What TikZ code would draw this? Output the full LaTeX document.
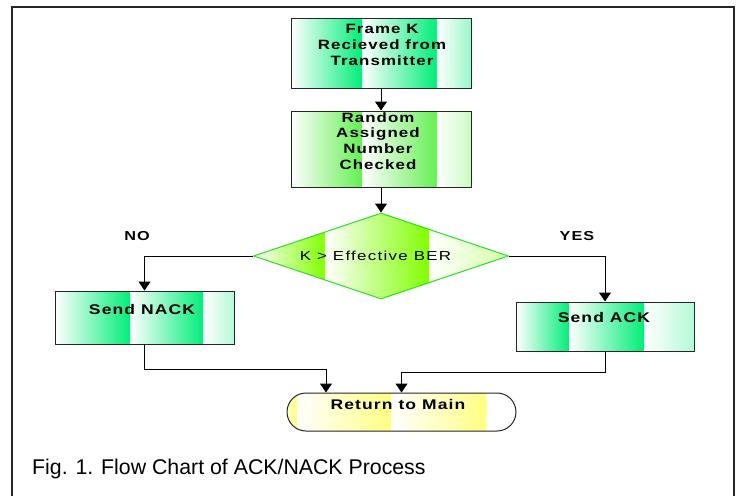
\documentclass[tikz,border=0pt]{standalone}
\usepackage{fontspec}
\setmainfont{Liberation Sans}
\newfontfamily\boxfont[FakeStretch=1.25,LetterSpace=8]{Liberation Sans}
\newfontfamily\dfont[FakeStretch=1.3,LetterSpace=10]{Liberation Sans}
\usetikzlibrary{shapes.geometric,shapes.misc,arrows.meta,calc}
\definecolor{gA}{RGB}{0,238,120}
\definecolor{gB}{RGB}{100,240,80}
\definecolor{gL}{RGB}{128,255,0}
\definecolor{gE}{RGB}{40,225,30}
\definecolor{yY}{RGB}{255,255,128}
\tikzset{
  stripes/.style n args={4}{path picture={
     \path (path picture bounding box.south west) coordinate (pp1)
           (path picture bounding box.north east) coordinate (pp2);
     \shade[left color=white,right color=#1] (pp1) rectangle ($(pp1|-pp2)!#2!(pp2)$);
     \shade[left color=white,right color=#1] ($(pp1)!#2!(pp1-|pp2)$) rectangle ($(pp1|-pp2)!#3!(pp2)$);
     \shade[left color=white,right color=#4] ($(pp1)!#3!(pp1-|pp2)$) rectangle (pp2);
  }},
  retfill/.style={path picture={
     \path (path picture bounding box.south west) coordinate (pp1)
           (path picture bounding box.north east) coordinate (pp2);
     \shade[left color=yY!50,right color=yY] (pp1) rectangle ($(pp1|-pp2)!0.046!(pp2)$);
     \shade[left color=white,right color=yY] ($(pp1)!0.046!(pp1-|pp2)$) rectangle ($(pp1|-pp2)!0.456!(pp2)$);
     \shade[left color=white,right color=yY] ($(pp1)!0.456!(pp1-|pp2)$) rectangle ($(pp1|-pp2)!0.87!(pp2)$);
  }},
  box/.style={draw=black!85, line width=1pt, rectangle, inner sep=0pt},
  btxt/.style={font=\boxfont\bfseries\fontsize{13.5}{15.7}\selectfont, align=center, inner sep=0pt},
  stxt/.style={font=\boxfont\bfseries\fontsize{14}{15.8}\selectfont, inner sep=0pt, anchor=base},
  lbl/.style={font=\boxfont\bfseries\fontsize{13}{15}\selectfont, inner sep=0pt, anchor=base},
  arr/.style={draw=black, line width=1pt, -{Triangle[width=12pt,length=9pt]}},
}
\begin{document}
\begin{tikzpicture}[x=1pt,y=-1pt]
\useasboundingbox (0,0) rectangle (742,496);
% frame
\draw[line width=1.8pt, black!85] (12,496) -- (12,7) -- (734,7) -- (734,496);

% boxes
\node[box, stripes={gA}{0.395}{0.81}{gA!40}, minimum width=180pt, minimum height=70pt] (b1) at (381,53) {};
\node[btxt] (t1) at (382,45) {Frame K\\Recieved from\\Transmitter};

\node[box, stripes={gB}{0.395}{0.81}{gB!35}, minimum width=180pt, minimum height=76pt] (b2) at (381,149) {};
\node[btxt] (t2) at (378,141) {Random\\Assigned\\Number\\Checked};

\node[draw=gE, line width=1pt, diamond, minimum width=255pt, minimum height=86pt, inner sep=0pt,
      stripes={gL}{0.28}{0.69}{gL!35}] (dia) at (381,256) {};
\node[font=\dfont\fontsize{13}{15}\selectfont, inner sep=0pt, anchor=base] (dt) at (375.5,260.7) {K > Effective BER};

\node[box, stripes={gA}{0.42}{0.83}{gA!30}, minimum width=179pt, minimum height=53pt] (nack) at (144.5,317.5) {};
\node[stxt] (tn) at (142,314) {Send NACK};

\node[box, stripes={gA}{0.30}{0.72}{gA!30}, minimum width=178pt, minimum height=49pt] (ack) at (605,326.5) {};
\node[stxt] (ta) at (604,322.7) {Send ACK};

\node[draw=black!85, line width=1pt, rounded rectangle, rounded rectangle arc length=180,
      minimum width=229pt, minimum height=38pt, inner sep=0pt, retfill] (ret) at (401.5,412) {};
\node[stxt] (tr) at (398,409) {Return to Main};

% labels
\node[lbl] (no) at (137,240.5) {NO};
\node[lbl] (yes) at (577,240.5) {YES};

% connectors
\draw[arr] (b1.south) -- (b2.north);
\draw[arr] (b2.south) -- (dia.north);
\draw[arr] (dia.west) -| (nack.north);
\draw[arr] (dia.east) -| (ack.north);
\coordinate (rin1) at ($(ret.north)+(-75.5,0)$);
\draw[arr] (nack.south) -- ++(0,25) -| (rin1);
\draw[arr] (ack.south) -- ++(0,21) -| (ret.north);

% caption
\node[anchor=base west, inner sep=0pt, font=\fontsize{21.3}{24}\selectfont] (cap) at (32,474.3) {Fig. 1. Flow Chart of ACK/NACK Process};
\end{tikzpicture}
\end{document}
